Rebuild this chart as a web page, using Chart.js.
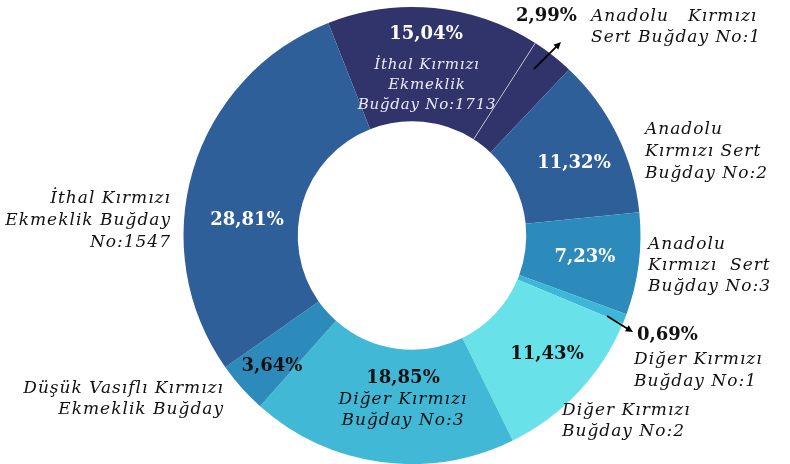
<!DOCTYPE html>
<html>
<head>
<meta charset="utf-8">
<script src="https://cdn.jsdelivr.net/npm/chart.js@4/dist/chart.umd.min.js"></script>
<style>
  html, body { margin: 0; padding: 0; background: #ffffff; }
  #wrap { width: 790px; height: 464px; position: relative; }
</style>
</head>
<body>
<div id="wrap"><canvas id="c" width="790" height="464"></canvas></div>
<script>
// ---- data ----
const categories = [
  "İthal Kırmızı Ekmeklik Buğday No:1713",
  "Anadolu Kırmızı Sert Buğday No:1",
  "Anadolu Kırmızı Sert Buğday No:2",
  "Anadolu Kırmızı Sert Buğday No:3",
  "Diğer Kırmızı Buğday No:1",
  "Diğer Kırmızı Buğday No:2",
  "Diğer Kırmızı Buğday No:3",
  "Düşük Vasıflı Kırmızı Ekmeklik Buğday",
  "İthal Kırmızı Ekmeklik Buğday No:1547"
];
const shares = [15.04, 2.99, 11.32, 7.23, 0.69, 11.43, 18.85, 3.64, 28.81];
const labelLines = [
  ["İthal Kırmızı", "Ekmeklik", "Buğday No:1713"],
  ["Anadolu   Kırmızı", "Sert Buğday No:1"],
  ["Anadolu", "Kırmızı Sert", "Buğday No:2"],
  ["Anadolu", "Kırmızı  Sert", "Buğday No:3"],
  ["Diğer Kırmızı", "Buğday No:1"],
  ["Diğer Kırmızı", "Buğday No:2"],
  ["Diğer Kırmızı", "Buğday No:3"],
  ["Düşük Vasıflı Kırmızı", "Ekmeklik Buğday"],
  ["İthal Kırmızı", "Ekmeklik Buğday", "No:1547"]
];

// ---- styles / layout ----
const colors = ["#30346b", "#30346b", "#2f5f98", "#2d8bbb", "#3db6d8", "#69e1e8", "#42b8d7", "#2d8bbb", "#2f5f98"];
// value label: [x, y, align, color]
const valuePos = [
  [426, 34, "center", "#ffffff"],
  [516, 16, "left", "#111111"],
  [574, 163, "center", "#ffffff"],
  [585, 257, "center", "#ffffff"],
  [637, 335, "left", "#111111"],
  [547, 354, "center", "#111111"],
  [403, 378, "center", "#111111"],
  [272, 366, "center", "#111111"],
  [247, 220, "center", "#ffffff"]
];
// name label: [x, firstLineY, lineHeight, align, color, fontSize, spacing]
const namePos = [
  [427, 65, 20, "center", "#eceaf4", 15, 0.8],
  [591, 17, 21, "left", "#111111", 17, 1],
  [645, 130, 22, "left", "#111111", 17, 1],
  [648, 245, 21, "left", "#111111", 17, 1],
  [634, 360, 22, "left", "#111111", 17, 1],
  [562, 411, 21, "left", "#111111", 17, 1],
  [403, 400, 21, "center", "#111111", 17, 1],
  [224, 389, 21, "right", "#111111", 17, 1],
  [171, 199, 22, "right", "#111111", 17, 1]
];
const arrows = [
  [534, 69, 561, 42],
  [607, 316, 633, 332]
];

const fmt = v => v.toFixed(2).replace(".", ",") + "%";

const labelPlugin = {
  id: "labels",
  afterDatasetsDraw(chart) {
    const ctx = chart.ctx;
    const meta = chart.getDatasetMeta(0);
    // thin separator between the two same-coloured slices
    const a = meta.data[0];
    const p = a.getProps(["x", "y", "endAngle", "innerRadius", "outerRadius"], true);
    ctx.save();
    ctx.strokeStyle = "rgba(255,255,255,0.75)";
    ctx.lineWidth = 0.8;
    ctx.beginPath();
    ctx.moveTo(p.x + Math.cos(p.endAngle) * p.innerRadius, p.y + Math.sin(p.endAngle) * p.innerRadius);
    ctx.lineTo(p.x + Math.cos(p.endAngle) * p.outerRadius, p.y + Math.sin(p.endAngle) * p.outerRadius);
    ctx.stroke();
    ctx.restore();

    ctx.save();
    ctx.textBaseline = "middle";
    shares.forEach((v, i) => {
      const [x, y, al, col] = valuePos[i];
      ctx.letterSpacing = "0px";
      ctx.font = "bold 18px 'DejaVu Serif'";
      ctx.fillStyle = col;
      ctx.textAlign = al;
      ctx.fillText(fmt(v), x, y);
      const [nx, ny, lh, nal, ncol, fs, sp] = namePos[i];
      ctx.font = "italic " + fs + "px 'DejaVu Serif'";
      ctx.letterSpacing = sp + "px";
      ctx.fillStyle = ncol;
      ctx.textAlign = nal;
      labelLines[i].forEach((t, k) => ctx.fillText(t, nx, ny + k * lh));
    });
    ctx.letterSpacing = "0px";
    // arrows
    ctx.strokeStyle = "#000";
    ctx.fillStyle = "#000";
    ctx.lineWidth = 1.8;
    arrows.forEach(([x1, y1, x2, y2]) => {
      const ang = Math.atan2(y2 - y1, x2 - x1);
      ctx.beginPath();
      ctx.moveTo(x1, y1);
      ctx.lineTo(x2 - Math.cos(ang) * 4, y2 - Math.sin(ang) * 4);
      ctx.stroke();
      ctx.beginPath();
      ctx.moveTo(x2, y2);
      ctx.lineTo(x2 - Math.cos(ang - 0.45) * 8, y2 - Math.sin(ang - 0.45) * 8);
      ctx.lineTo(x2 - Math.cos(ang + 0.45) * 8, y2 - Math.sin(ang + 0.45) * 8);
      ctx.closePath();
      ctx.fill();
    });
    ctx.restore();
  }
};

new Chart(document.getElementById("c"), {
  type: "doughnut",
  data: {
    labels: categories,
    datasets: [{
      data: shares,
      backgroundColor: colors,
      borderWidth: 0,
      hoverOffset: 0
    }]
  },
  options: {
    responsive: false,
    animation: false,
    cutout: "50%",
    rotation: -21.5,
    layout: { padding: { top: 7, bottom: 0, left: 34, right: 0 } },
    plugins: { legend: { display: false }, tooltip: { enabled: false }, title: { display: false } },
    events: []
  },
  plugins: [labelPlugin]
});
</script>
</body>
</html>
